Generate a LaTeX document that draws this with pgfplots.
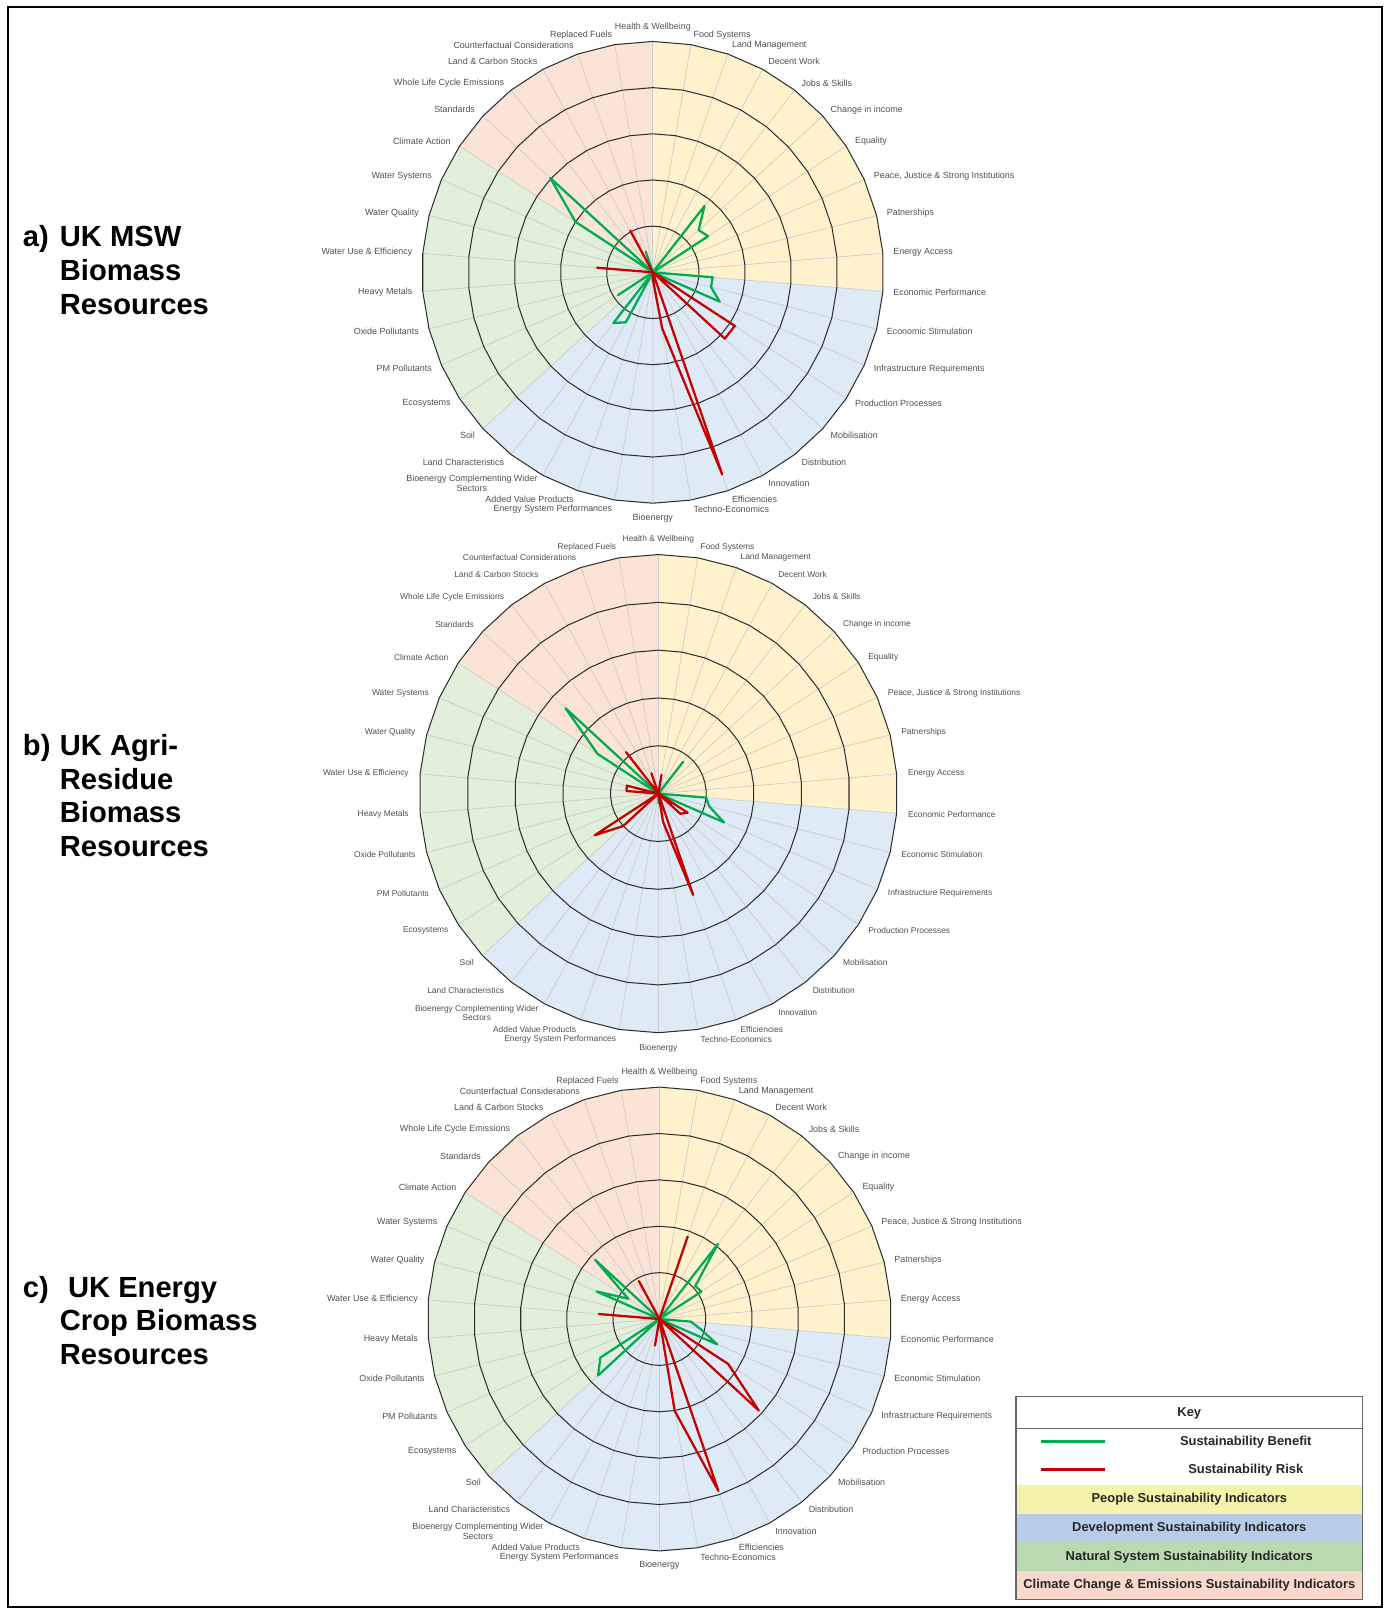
\documentclass[border=0pt]{standalone}
\usepackage{fontspec}
\setmainfont{Liberation Sans}
\usepackage{pgfplots}
\pgfplotsset{compat=1.18}
\usepackage{pgfplotstable}

\definecolor{secY}{RGB}{255,242,204}
\definecolor{secB}{RGB}{222,234,246}
\definecolor{secG}{RGB}{226,239,218}
\definecolor{secP}{RGB}{251,228,213}
\definecolor{ben}{RGB}{0,172,80}
\definecolor{risk}{RGB}{196,0,0}
\definecolor{labgray}{RGB}{80,80,80}
\definecolor{ringc}{RGB}{45,45,45}
\definecolor{spokec}{RGB}{205,205,205}
\definecolor{keyY}{RGB}{245,242,170}
\definecolor{keyB}{RGB}{182,204,232}
\definecolor{keyG}{RGB}{186,217,176}
\definecolor{keyP}{RGB}{248,217,204}

% chart a: MSW
\pgfplotstableread{
i ben risk
0 0 0
1 0 0
2 0 0
3 0 0
4 1.82 0
5 1.35 0
6 1.43 0
7 0 0
8 0 0
9 0 0
10 1.30 0
11 1.30 0
12 1.58 0
13 0 2.12
14 0 2.12
15 0 0
16 0 0
17 0 4.63
18 0 1.23
19 0 0.15
20 0 0
21 0 0
22 1.23 0
23 1.39 0
24 0 0
25 0.90 0
26 0 0
27 0 0
28 0 0
29 0 1.21
30 0 0
31 0 0
32 2.00 0
33 3.02 0
34 0 0
35 0 1.03
36 0.48 0
37 0 0
}\tabA

% chart b: agri-residue
\pgfplotstableread{
i ben risk
0 0 0
1 0 0.40
2 0 0
3 0 0
4 0.84 0
5 0 0
6 0 0
7 0 0
8 0 0
9 0 0
10 1.00 0
11 1.10 0
12 1.50 0
13 0 0.73
14 0 0.62
15 0 0
16 0 0
17 0 2.24
18 0 0.60
19 0.20 0
20 0 0
21 0 0
22 0 0
23 0 0
24 0 1.00
25 0 1.59
26 0 0
27 0 0
28 0 0
29 0 0.67
30 0 0.68
31 0 0
32 1.52 0
33 2.64 0
34 0 1.10
35 0 0
36 0 0.45
37 0 0
}\tabB

% chart c: energy crop
\pgfplotstableread{
i ben risk
0 0 0
1 0 0
2 0 1.88
3 0 0
4 2.05 0
5 1.05 0
6 1.08 0
7 0 0
8 0 0
9 0 0
10 0.68 0
11 0.93 0
12 1.36 0
13 0 1.77
14 0 2.91
15 0 0
16 0 0
17 0 3.92
18 0 2.01
19 0 0
20 0 0.58
21 0 0
22 0 0
23 0 0
24 1.80 0
25 1.52 0
26 0 0
27 0 0
28 0 0
29 0 1.31
30 0 0
31 1.48 0
32 0.80 0
33 1.88 0
34 0 0
35 0 0.93
36 0 0
37 0 0
}\tabC

\pgfplotstableread{
i one
0 1
1 1
2 1
3 1
4 1
5 1
6 1
7 1
8 1
9 1
10 1
11 1
12 1
13 1
14 1
15 1
16 1
17 1
18 1
19 1
20 1
21 1
22 1
23 1
24 1
25 1
26 1
27 1
28 1
29 1
30 1
31 1
32 1
33 1
34 1
35 1
36 1
37 1
38 1
}\spk

\pgfplotstableread{
i r
0 0
0 5
1 5
2 5
3 5
4 5
5 5
6 5
7 5
8 5
9 5
10 5
10 0
}\secYt
\pgfplotstableread{
i r
10 0
10 5
11 5
12 5
13 5
14 5
15 5
16 5
17 5
18 5
19 5
20 5
21 5
22 5
23 5
24 5
24 0
}\secBt
\pgfplotstableread{
i r
24 0
24 5
25 5
26 5
27 5
28 5
29 5
30 5
31 5
32 5
32 0
}\secGt
\pgfplotstableread{
i r
32 0
32 5
33 5
34 5
35 5
36 5
37 5
38 5
38 0
}\secPt

\pgfplotsset{
  radarax/.style={anchor=center, xmin=-5.6, xmax=5.6, ymin=-5.6, ymax=5.6,
    hide axis, clip=false},
}
\pgfkeys{/pgfplots/table/polx/.style={
    /pgfplots/table/x expr={\thisrow{#1}*sin(\thisrow{i}*360/38)},
    /pgfplots/table/y expr={\thisrow{#1}*cos(\thisrow{i}*360/38)}}}

\newcommand{\radarbg}{%
  \addplot[fill=secY, draw=none] table[polx=r] {\secYt};
  \addplot[fill=secB, draw=none] table[polx=r] {\secBt};
  \addplot[fill=secG, draw=none] table[polx=r] {\secGt};
  \addplot[fill=secP, draw=none] table[polx=r] {\secPt};
  \pgfplotsinvokeforeach{0,...,37}{%
    \draw[spokec, line width=0.35pt] (axis cs:0,0) -- (axis cs:{5*sin(##1*360/38)},{5*cos(##1*360/38)});}
  \pgfplotsinvokeforeach{1,...,5}{%
    \addplot[ringc, line width=0.5pt] table[x expr={##1*\thisrow{one}*sin(\thisrow{i}*360/38)}, y expr={##1*\thisrow{one}*cos(\thisrow{i}*360/38)}] {\spk};}
}

\def\catlist{Health \& Wellbeing, Food Systems, Land Management, Decent Work, Jobs \& Skills, Change in income, Equality, {Peace, Justice \& Strong Institutions}, Patnerships, Energy Access, Economic Performance, Economic Stimulation, Infrastructure Requirements, Production Processes, Mobilisation, Distribution, Innovation, Efficiencies, Techno-Economics, Bioenergy, Energy System Performances, Added Value Products, {Bioenergy Complementing Wider\\Sectors}, Land Characteristics, Soil, Ecosystems, PM Pollutants, Oxide Pollutants, Heavy Metals, Water Use \& Efficiency, Water Quality, Water Systems, Climate Action, Standards, Whole Life Cycle Emissions, Land \& Carbon Stocks, Counterfactual Considerations, Replaced Fuels}

\newcommand{\catlabels}[4]{%
  \foreach \lab [count=\n from 0] in \catlist {%
    \pgfmathsetmacro{\ang}{\n*360/38}%
    \ifnum\n=0 \def\anc{south}\else\ifnum\n=19 \def\anc{north}\else\ifnum\n<19 \def\anc{west}\else\def\anc{east}\fi\fi\fi
    \node[anchor=\anc, font=#4, text=labgray, align=center, inner sep=0.4pt]
      at ({#1+(#3)*sin(\ang)},{#2-(#3)*cos(\ang)}) {\lab};
  }}

\begin{document}
\begin{tikzpicture}
% ---------- chart a ----------
\begin{axis}[radarax, at={(318.1pt,-132.7pt)}, x=22.5pt, y=22.5pt]
\radarbg
\addplot[ben, line width=1.1pt, line join=round] table[polx=ben] {\tabA};
\addplot[risk, line width=1.1pt, line join=round] table[polx=risk] {\tabA};
\end{axis}
% ---------- chart b ----------
\begin{axis}[radarax, at={(320.8pt,-386.7pt)}, x=23.3pt, y=23.3pt]
\radarbg
\addplot[ben, line width=1.1pt, line join=round] table[polx=ben] {\tabB};
\addplot[risk, line width=1.1pt, line join=round] table[polx=risk] {\tabB};
\end{axis}
% ---------- chart c ----------
\begin{axis}[radarax, at={(321.3pt,-642.7pt)}, x=22.6pt, y=22.6pt]
\radarbg
\addplot[ben, line width=1.1pt, line join=round] table[polx=ben] {\tabC};
\addplot[risk, line width=1.1pt, line join=round] table[polx=risk] {\tabC};
\end{axis}

\begin{scope}[x=0.5pt, y=-0.5pt]
% category labels
\catlabels{636.2}{265.4}{234}{\fontsize{4.35}{4.9}\selectfont}
\catlabels{641.6}{773.4}{243}{\fontsize{4.1}{4.7}\selectfont}
\catlabels{642.6}{1285.5}{235}{\fontsize{4.35}{4.9}\selectfont}

% panel titles
\begin{scope}[every node/.style={anchor=base west, inner sep=0pt, font=\fontsize{14.2}{16}\selectfont\bfseries}]
\node at (22,240) {a)};
\node at (58,240) {UK MSW};
\node at (58,273) {Biomass};
\node at (58,306) {Resources};
\node at (22,736) {b)};
\node at (58,736) {UK Agri-};
\node at (58,769) {Residue};
\node at (58,802) {Biomass};
\node at (58,835) {Resources};
\node at (22,1264) {c)};
\node at (66,1264) {UK Energy};
\node at (58,1297) {Crop Biomass};
\node at (58,1330) {Resources};
\end{scope}

% key
\fill[white] (990,1361) rectangle (1328,1447);
\fill[keyY] (990,1447) rectangle (1328,1475);
\fill[keyB] (990,1475) rectangle (1328,1503);
\fill[keyG] (990,1503) rectangle (1328,1531);
\fill[keyP] (990,1531) rectangle (1328,1559);
\draw[gray!80!black, line width=0.5pt] (990,1392) -- (1328,1392);
\draw[gray!80!black, line width=0.6pt] (990,1361) rectangle (1328,1559);
\draw[ben, line width=1.3pt] (1014,1405) -- (1077,1405);
\draw[risk, line width=1.3pt] (1014,1432) -- (1077,1432);
\begin{scope}[every node/.style={inner sep=0pt, font=\fontsize{6.3}{7}\selectfont\bfseries, text=black!85}]
\node at (1159,1377) {Key};
\node at (1214,1405) {Sustainability Benefit};
\node at (1214,1433) {Sustainability Risk};
\node at (1159,1461) {People Sustainability Indicators};
\node at (1159,1489) {Development Sustainability Indicators};
\node at (1159,1517) {Natural System Sustainability Indicators};
\node at (1159,1545) {Climate Change \& Emissions Sustainability Indicators};
\end{scope}

% frame
\draw[line width=1.1pt] (8,7) rectangle (1347,1566);
\pgfresetboundingbox
\path[use as bounding box] (0,0) rectangle (1352,1568);
\end{scope}
\end{tikzpicture}
\end{document}
